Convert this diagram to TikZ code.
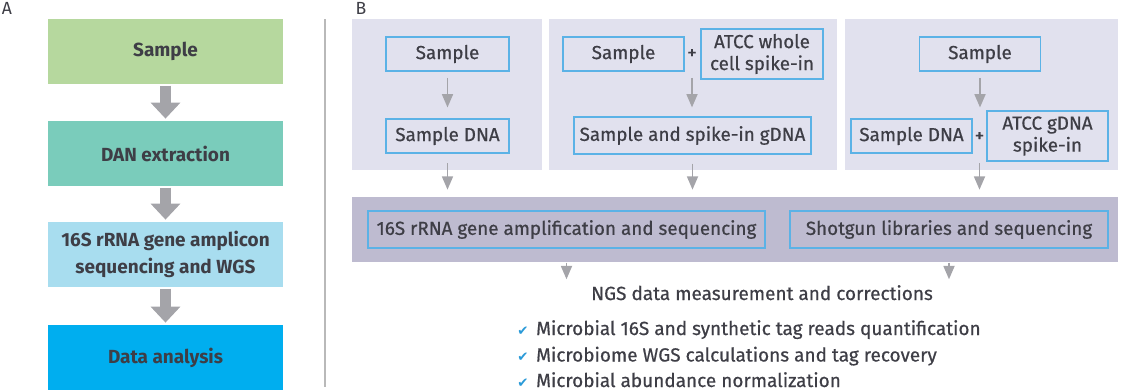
\documentclass[tikz,border=0pt]{standalone}
\usepackage{fontspec}
\setmainfont{Fira Sans}
\newfontfamily\medfont{Fira Sans}[FakeBold=0.6]
\newfontfamily\tickfont{DejaVu Sans}
\usetikzlibrary{arrows.meta}
\definecolor{txtgray}{HTML}{3E3E46}
\definecolor{agreen}{HTML}{B6D89E}
\definecolor{ateal}{HTML}{7ACCBB}
\definecolor{alight}{HTML}{A8DDEF}
\definecolor{ablue}{HTML}{00AEEF}
\definecolor{arrgray}{HTML}{A4A4A9}
\definecolor{panelbg}{HTML}{E1E1EE}
\definecolor{barbg}{HTML}{BEBBD0}
\definecolor{boxline}{HTML}{5BB2E6}
\definecolor{tickblue}{HTML}{2A9AD8}
\newcommand{\tick}{{\color{tickblue}\tickfont\fontsize{9.5}{9.5}\selectfont ✔}}

\begin{document}
\begin{tikzpicture}[x=0.025cm, y=-0.025cm,
    abox/.style={minimum width=235*0.025cm, minimum height=65*0.025cm, inner sep=0pt,
      text=txtgray, align=center, font=\bfseries\fontsize{13.5}{19}\selectfont},
    bbox/.style={draw=boxline, line width=0.8pt, inner sep=0pt, text=txtgray, align=center,
      font=\medfont\fontsize{13.4}{15.6}\selectfont},
    panel/.style={fill=panelbg},
    plus/.style={text=txtgray, font=\medfont\fontsize{13.4}{13.4}\selectfont, inner sep=0pt},
    bigarrow/.style={arrgray, line width=7.8pt, -{Triangle[width=20.6pt, length=11.4pt]}},
    thinarrow/.style={arrgray, line width=1.3pt, -{Triangle[width=7.8pt, length=9.5pt]}},
    item/.style={anchor=base west, inner sep=0pt, text=txtgray, font=\medfont\fontsize{13.5}{15}\selectfont},
    panellabel/.style={text=txtgray, font=\fontsize{12.5}{12.5}\selectfont, inner sep=0pt}]
  \useasboundingbox (0,0) rectangle (1125,390);

  % Panel A
  \node[panellabel] (la) at (7,8) {A};
  \node[abox, fill=agreen] (a1) at (165.5,51.5) {Sample};
  \node[abox, fill=ateal] (a2) at (165.5,153.5) {DAN extraction};
  \node[abox, fill=alight] (a3) at (165.5,254.5) {16S rRNA gene amplicon\\sequencing and WGS};
  \node[abox, fill=ablue] (a4) at (165.5,357.5) {Data analysis};
  \foreach \u/\v in {a1/a2, a2/a3, a3/a4}
    \draw[bigarrow, shorten <=1pt, shorten >=1.5pt] (\u) -- (\v);

  % Divider
  \draw[gray!55, line width=1pt] (325,19) -- (325,387);

  % Panel B
  \node[panellabel] (lb) at (361,8) {B};
  \fill[panel] (352,19) rectangle (542,170);
  \fill[panel] (549,19) rectangle (837,170);
  \fill[panel] (845,19) rectangle (1118,170);
  \node[fill=barbg, minimum width=766*0.025cm, minimum height=65*0.025cm, inner sep=0pt]
    (bar) at (735,229.5) {};

  % Column 1
  \node[bbox, minimum width=123*0.025cm, minimum height=34*0.025cm] (s1) at (447.5,54) {Sample};
  \node[bbox, minimum width=123*0.025cm, minimum height=34*0.025cm] (d1) at (447.5,136) {Sample DNA};
  % Column 2
  \node[bbox, minimum width=121*0.025cm, minimum height=34*0.025cm] (s2) at (623.5,54) {Sample};
  \node[plus] (plus1) at (692,54) {+};
  \node[bbox, minimum width=122*0.025cm, minimum height=50*0.025cm] (w2) at (762,54) {ATCC whole\\cell spike-in};
  \node[bbox, minimum width=237*0.025cm, minimum height=37*0.025cm] (g2) at (692.5,135.5) {Sample and spike-in gDNA};
  % Column 3
  \node[bbox, minimum width=121*0.025cm, minimum height=34*0.025cm] (s3) at (980,54) {Sample};
  \node[bbox, minimum width=121*0.025cm, minimum height=34*0.025cm] (d3) at (911.5,136) {Sample DNA};
  \node[plus] (plus2) at (979.5,137) {+};
  \node[bbox, minimum width=121*0.025cm, minimum height=50*0.025cm] (g3) at (1047.5,136) {ATCC gDNA\\spike-in};

  % Sequencing
  \node[bbox, minimum width=397*0.025cm, minimum height=37*0.025cm] (b1) at (566.5,229.5) {16S rRNA gene amplification and sequencing};
  \node[bbox, minimum width=318*0.025cm, minimum height=37*0.025cm] (b2) at (949,229.5) {Shotgun libraries and sequencing};

  % Arrows
  \draw[thinarrow, shorten <=4.5pt, shorten >=7.8pt] (s1) -- (d1);
  \draw[thinarrow, shorten <=4.5pt, shorten >=6.4pt] (plus1 |- s2.south) -- (plus1 |- g2.north);
  \draw[thinarrow, shorten <=4.5pt, shorten >=7.8pt] (s3.south) -- (s3.south |- d3.north);
  \draw[thinarrow, shorten <=7pt, shorten >=5pt] (d1.south) -- (d1.south |- bar.north);
  \draw[thinarrow, shorten <=6.4pt, shorten >=5pt] (g2.south) -- (g2.south |- bar.north);
  \draw[thinarrow, shorten <=7pt, shorten >=5pt] (plus2 |- d3.south) -- (plus2 |- bar.north);

  % NGS corrections
  \node[item, anchor=base] (ngs) at (762,300) {NGS data measurement and corrections};
  \draw[thinarrow, shorten <=10pt, shorten >=4pt] (b1.south) -- (b1.south |- ngs.north);
  \draw[thinarrow, shorten <=10pt, shorten >=4pt] (b2.south) -- (b2.south |- ngs.north);
  \node[item] (m1) at (517,335) {\tick\hspace{5.5pt}Microbial 16S and synthetic tag reads quantification};
  \node[item] (m2) at (517,361.5) {\tick\hspace{5.5pt}Microbiome WGS calculations and tag recovery};
  \node[item] (m3) at (517,387) {\tick\hspace{5.5pt}Microbial abundance normalization};
\end{tikzpicture}
\end{document}
